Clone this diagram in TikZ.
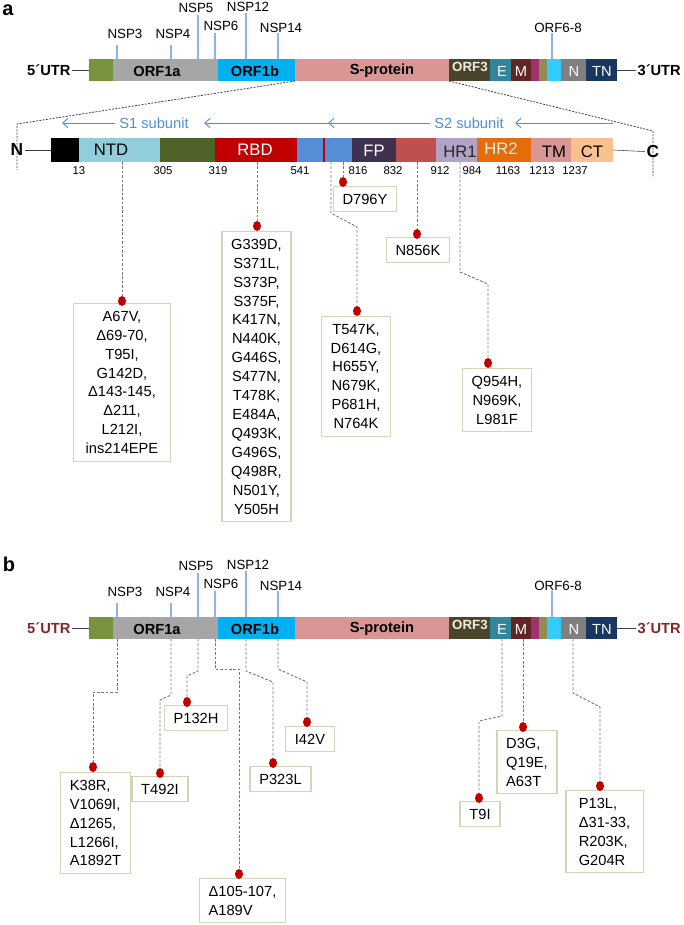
\documentclass[tikz,border=0pt]{standalone}
\usepackage{fontspec}
\setmainfont{Liberation Sans}
\usepackage{xcolor}
\usepackage{tikz}
\usetikzlibrary{arrows.meta,shapes.geometric}

\definecolor{utrgreen}{RGB}{119,147,60}
\definecolor{orfgray}{RGB}{166,166,166}
\definecolor{orfcyan}{RGB}{0,176,240}
\definecolor{spink}{RGB}{218,150,148}
\definecolor{orfthree}{RGB}{74,69,42}
\definecolor{eteal}{RGB}{49,133,156}
\definecolor{mred}{RGB}{99,37,35}
\definecolor{mmag}{RGB}{160,50,110}
\definecolor{molive}{RGB}{148,138,84}
\definecolor{lcyan}{RGB}{51,204,255}
\definecolor{ngray}{RGB}{127,127,127}
\definecolor{tnnavy}{RGB}{23,55,94}
\definecolor{ntdblue}{RGB}{146,205,220}
\definecolor{dolive}{RGB}{79,98,40}
\definecolor{rbdred}{RGB}{192,0,0}
\definecolor{sblue}{RGB}{85,142,213}
\definecolor{fppurple}{RGB}{64,49,81}
\definecolor{brick}{RGB}{192,80,77}
\definecolor{lav}{RGB}{179,162,199}
\definecolor{hrorange}{RGB}{228,108,10}
\definecolor{tmpink}{RGB}{217,150,148}
\definecolor{peach}{RGB}{250,192,144}
\definecolor{boxline}{RGB}{216,210,184}
\definecolor{dotred}{RGB}{192,0,0}
\definecolor{utrred}{RGB}{128,40,40}
\definecolor{subblue}{RGB}{74,144,217}
\definecolor{nspblue}{RGB}{141,180,226}
\definecolor{leadgray}{RGB}{120,120,120}
\definecolor{cream}{RGB}{238,236,225}

\newcommand{\genome}[3]{%
\begin{scope}[shift={(0,#1)}, name prefix=#2-]
	\foreach \xa/\xb/\col in {89/113/utrgreen,113/218/orfgray,218/295/orfcyan,295/449/spink,449/490/orfthree,490/511/eteal,511/531/mred,531/539/mmag,539/547/molive,547/561/lcyan,561/586/ngray,586/617/tnnavy}
		\fill[\col] (\xa,59) rectangle (\xb,81);
	\node[gbold] (orf1a) at (157,71) {ORF1a};
	\node[gbold] (orf1b) at (255,71) {ORF1b};
	\node[gbold] (sprot) at (382,71) {S-protein};
	\node[gbold, text=cream, font=\bfseries\fontsize{10}{12}\selectfont] (orf3) at (470,67) {ORF3};
	\node[gwhite] (e) at (502,71) {E};
	\node[gwhite] (m) at (521,71) {M};
	\node[gwhite] (n) at (574,71) {N};
	\node[gwhite] (tn) at (602,71) {TN};
	\node[utr, text=#3, anchor=east] (utr5) at (72,70) {5´UTR};
	\node[utr, text=#3, anchor=west] (utr3) at (636,70) {3´UTR};
	\draw[darkgray] (utr5) -- (89,70);
	\draw[darkgray] (617,70) -- (utr3);
	\foreach \nm/\lab/\xl/\yl/\xt/\yt in {nsp3/NSP3/125/34/117/45,nsp4/NSP4/173/34/171/45,nsp5/NSP5/196/8/198/15,nsp6/NSP6/221/26/215/33,nsp12/NSP12/248/7/246/13,nsp14/NSP14/281/28/278/33,orf68/ORF6-8/558/28/552/33} {
		\node[nsplab] (\nm) at (\xl,\yl) {\lab};
		\draw[nspline] (\xt,\yt) -- (\xt,59);
		\coordinate (\nm-t) at (\xt,81);
	}
	\coordinate (sbeg) at (295,81);
	\coordinate (send) at (449,81);
	\coordinate (e-t) at (502,81);
	\coordinate (m-t) at (523,81);
	\coordinate (n-t) at (573,81);
\end{scope}}

\begin{document}
\begin{tikzpicture}[x=0.75pt, y=-0.75pt,
	gbold/.style={font=\bfseries\fontsize{11}{13}\selectfont, text=black},
	gwhite/.style={font=\fontsize{11}{13}\selectfont, text=white},
	utr/.style={font=\bfseries\fontsize{11}{13}\selectfont, inner sep=1pt},
	nsplab/.style={font=\fontsize{10}{12}\selectfont, inner sep=1pt},
	nspline/.style={draw=nspblue, line width=0.8pt},
	panel/.style={font=\bfseries\fontsize{15}{17}\selectfont},
	term/.style={font=\bfseries\fontsize{13}{15}\selectfont, inner sep=1pt},
	dom/.style={font=\fontsize{12.5}{15}\selectfont},
	posnum/.style={font=\fontsize{8.5}{10}\selectfont},
	sub/.style={font=\fontsize{11}{13}\selectfont, text=subblue},
	subarrow/.style={draw=subblue, line width=0.7pt, -{Straight Barb[length=4pt,width=7pt]}},
	zoomline/.style={draw=black!75, line width=0.6pt, dash pattern=on 1.5pt off 1pt},
	mutbox/.style={draw=boxline, line width=1pt, fill=white, align=center, inner xsep=7pt, inner ysep=5.5pt, font=\fontsize{11}{14.2}\selectfont},
	mutboxl/.style={mutbox, align=left},
	mutdot/.style={ellipse, fill=dotred, inner sep=0pt, minimum width=6pt, minimum height=7.5pt},
	leader/.style={draw=leadgray, line width=0.7pt, dash pattern=on 2pt off 1.3pt}]
	\useasboundingbox (0,0) rectangle (684,925);
	
	\node[panel] (la) at (8,10) {a};
	\genome{0}{a}{black}
	
	\coordinate (zl) at (17,124);
	\coordinate (zr) at (653,131);
	\draw[zoomline] (a-sbeg) -- (zl) -- (17,170);
	\draw[zoomline] (a-send) -- (zr) -- (653,177);
	
	\foreach \xa/\xb/\col in {51/79/black,79/160/ntdblue,160/215/dolive,215/297/rbdred,297/352/sblue,352/396/fppurple,396/436/brick,436/477/lav,477/531/hrorange,531/571/tmpink,571/613/peach}
		\fill[\col] (\xa,138) rectangle (\xb,162);
	\draw[rbdred, line width=1.1pt] (324,138) -- (324,162);
	\node[term] (nterm) at (17,150) {N};
	\node[term] (cterm) at (653,152) {C};
	\draw[darkgray] (nterm) -- (51,150);
	\draw[darkgray] (613,150) -- (cterm);
	
	\node[dom] (ntd) at (111,150) {NTD};
	\node[dom, text=white] (rbd) at (255,150) {RBD};
	\node[dom, text=white] (fp) at (374,151) {FP};
	\node[dom, text=black!85] (hr1) at (460,152) {HR1};
	\node[dom, text=cream] (hr2) at (501,149) {HR2};
	\node[dom] (tm) at (554,152) {TM};
	\node[dom] (ct) at (592,152) {CT};
	
	\foreach \x/\n in {79/13,163/305,218/319,300/541,358/816,393/832,440/912,472/984,508/1163,542/1213,575/1237}
		\node[posnum] (p\n) at (\x,171) {\n};
	
	\node[sub] (s1) at (154,123) {S1 subunit};
	\node[sub] (s2) at (469,123) {S2 subunit};
	\coordinate (s1l) at (62,123);
	\coordinate (s1r) at (204,123);
	\coordinate (cut) at (328,123);
	\coordinate (s2r) at (515,123);
	\coordinate (cend) at (613,123);
	\draw[subarrow] (s1) -- (s1l);
	\draw[subarrow] (cut) -- (s1r);
	\draw[subarrow] (s2) -- (cut);
	\draw[subarrow] (cend) -- (s2r);
	
	\node[mutbox, anchor=north, minimum width=73pt] (bNTD) at (122,303) {A67V,\\Δ69-70,\\T95I,\\G142D,\\Δ143-145,\\Δ211,\\L212I,\\ins214EPE};
	\node[mutbox, anchor=north] (bRBD) at (256.5,231) {G339D,\\S371L,\\S373P,\\S375F,\\K417N,\\N440K,\\G446S,\\S477N,\\T478K,\\E484A,\\Q493K,\\G496S,\\Q498R,\\N501Y,\\Y505H};
	\node[mutbox, anchor=north] (b796) at (365,186) {D796Y};
	\node[mutbox, anchor=north] (b547) at (356,316) {T547K,\\D614G,\\H655Y,\\N679K,\\P681H,\\N764K};
	\node[mutbox, anchor=north] (b856) at (418,237) {N856K};
	\node[mutbox, anchor=north] (b954) at (497,368) {Q954H,\\N969K,\\L981F};
	
	\node[mutdot] (dNTD) at (122,301) {};
	\node[mutdot] (dRBD) at (257,226) {};
	\node[mutdot] (d796) at (343,182) {};
	\node[mutdot] (d547) at (357,311) {};
	\node[mutdot] (d856) at (417,234) {};
	\node[mutdot] (d954) at (488,363) {};
	
	\coordinate (tNTD) at (122,162);
	\coordinate (tRBD) at (257,162);
	\coordinate (t796) at (343,162);
	\coordinate (t547) at (331,162);
	\coordinate (t856) at (417,162);
	\coordinate (t954) at (460,162);
	\draw[leader] (tNTD) -- (dNTD);
	\draw[leader] (tRBD) -- (dRBD);
	\draw[leader] (t796) -- (d796);
	\draw[leader] (t547) -- (331,213) -- (357,227) -- (d547);
	\draw[leader] (t856) -- (d856);
	\draw[leader] (t954) -- (460,272) -- (488,284) -- (d954);
	
	\node[panel] (lb) at (9,564) {b};
	\genome{558}{b}{utrred}
	
	\node[mutboxl, anchor=north] (bK38R) at (95.5,772) {K38R,\\V1069I,\\Δ1265,\\L1266I,\\A1892T};
	\node[mutboxl, anchor=north] (bT492I) at (160,776) {T492I};
	\node[mutboxl, anchor=north] (bP132H) at (196,705) {P132H};
	\node[mutboxl, anchor=north] (bD105) at (242.5,878) {Δ105-107,\\A189V};
	\node[mutboxl, anchor=north] (bP323L) at (280.5,766) {P323L};
	\node[mutboxl, anchor=north] (bI42V) at (310,726) {I42V};
	\node[mutboxl, anchor=north] (bT9I) at (480,801) {T9I};
	\node[mutboxl, anchor=north] (bD3G) at (527,730) {D3G,\\Q19E,\\A63T};
	\node[mutboxl, anchor=north, minimum width=58pt] (bP13L) at (604.5,790) {P13L,\\Δ31-33,\\R203K,\\G204R};
	
	\node[mutdot] (dK38R) at (93,767) {};
	\node[mutdot] (dT492I) at (160,773) {};
	\node[mutdot] (dP132H) at (187,702) {};
	\node[mutdot] (dD105) at (239,874) {};
	\node[mutdot] (dP323L) at (273,763) {};
	\node[mutdot] (dI42V) at (307,722) {};
	\node[mutdot] (dT9I) at (479,798) {};
	\node[mutdot] (dD3G) at (523,727) {};
	\node[mutdot] (dP13L) at (600,786) {};
	
	\draw[leader] (b-nsp3-t) -- (117,692) -- (93,692) -- (dK38R);
	\draw[leader] (b-nsp4-t) -- (171,695) -- (160,700) -- (dT492I);
	\draw[leader] (b-nsp5-t) -- (198,671) -- (187,676) -- (dP132H);
	\draw[leader] (b-nsp6-t) -- (215,669) -- (239,669) -- (dD105);
	\draw[leader] (b-nsp12-t) -- (246,671) -- (273,682) -- (dP323L);
	\draw[leader] (b-nsp14-t) -- (278,669) -- (307,682) -- (dI42V);
	\draw[leader] (b-e-t) -- (502,716) -- (479,721) -- (dT9I);
	\draw[leader] (b-m-t) -- (dD3G);
	\draw[leader] (b-n-t) -- (573,693) -- (600,707) -- (dP13L);
\end{tikzpicture}
\end{document}
